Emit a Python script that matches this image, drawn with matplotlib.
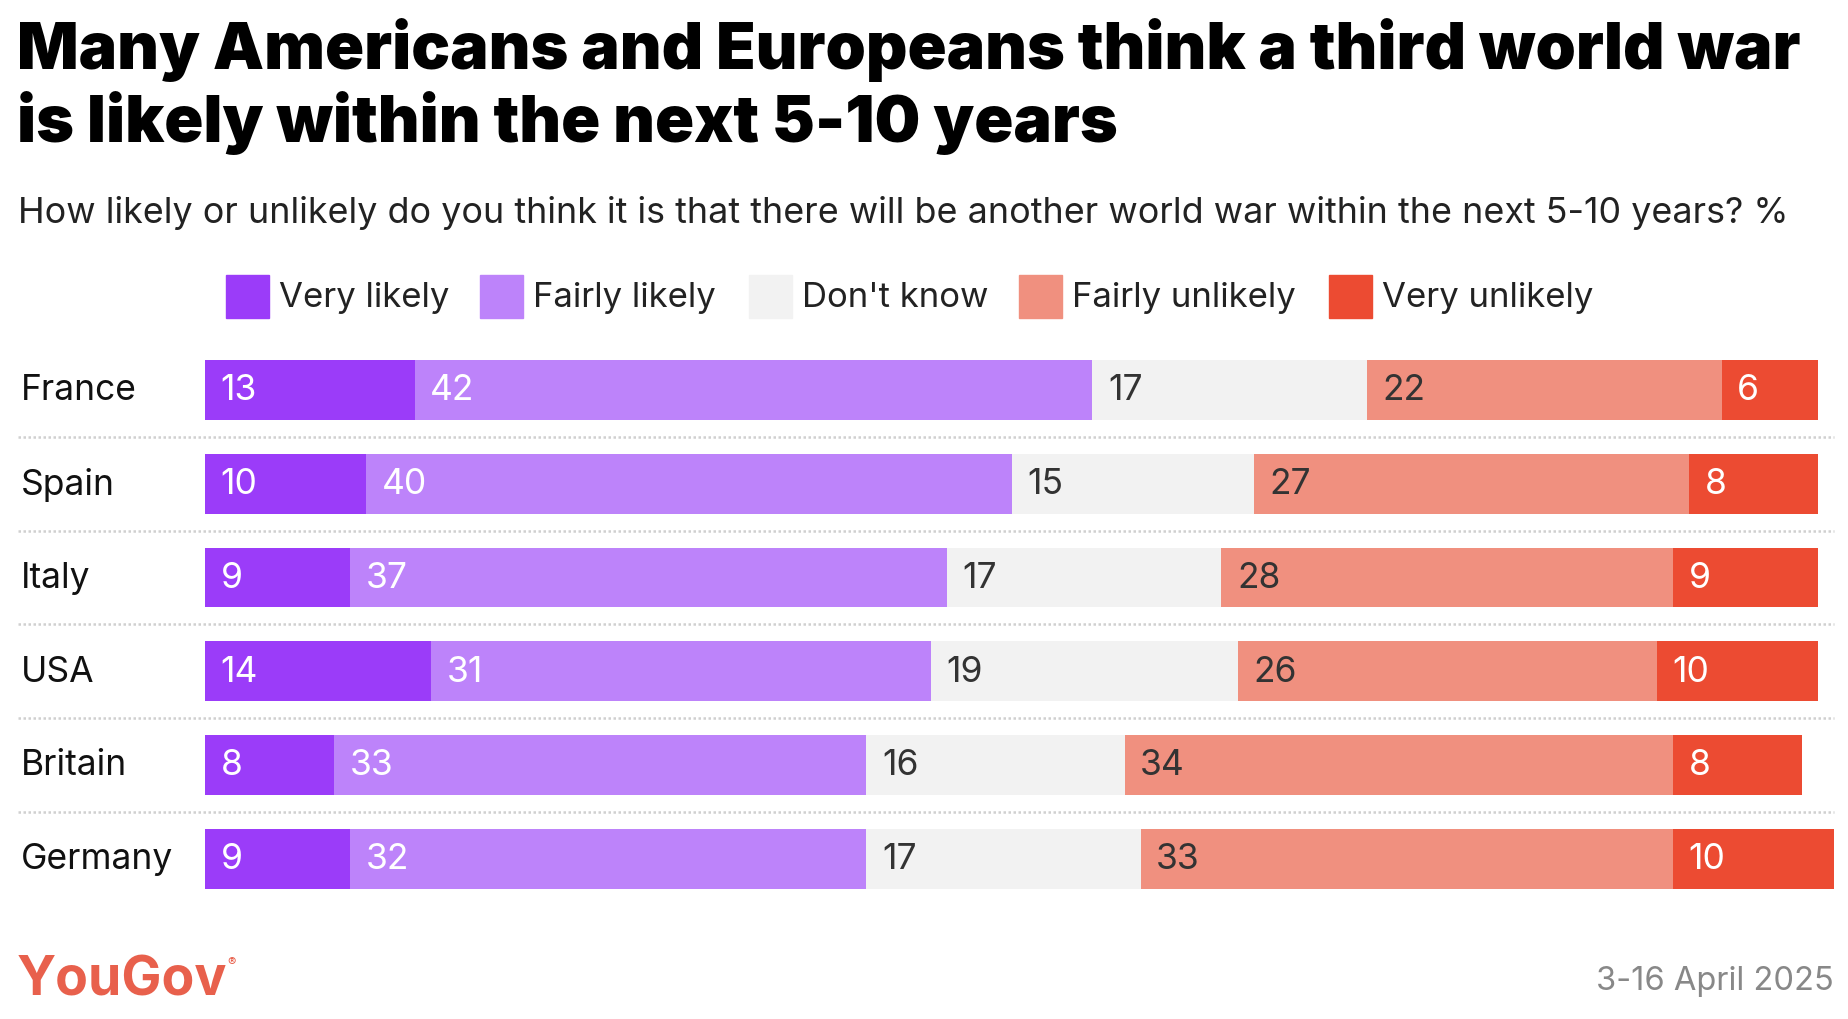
import matplotlib
matplotlib.use("Agg")
import matplotlib.pyplot as plt
import numpy as np

countries = ["France", "Spain", "Italy", "USA", "Britain", "Germany"]
categories = ["Very likely", "Fairly likely", "Don't know", "Fairly unlikely", "Very unlikely"]
very_likely = [13, 10, 9, 14, 8, 9]
fairly_likely = [42, 40, 37, 31, 33, 32]
dont_know = [17, 15, 17, 19, 16, 17]
fairly_unlikely = [22, 27, 28, 26, 34, 33]
very_unlikely = [6, 8, 9, 10, 8, 10]
series = [very_likely, fairly_likely, dont_know, fairly_unlikely, very_unlikely]
colors = ["#9B3CF9", "#BD83FA", "#F2F2F2", "#F0907F", "#EC4B32"]
text_colors = ["white", "white", "#333333", "#333333", "white"]

title_lines = ["Many Americans and Europeans think a third world war",
               "is likely within the next 5-10 years"]
subtitle = "How likely or unlikely do you think it is that there will be another world war within the next 5-10 years? %"
date_text = "3-16 April 2025"

plt.rcParams['font.family'] = ['Inter', 'DejaVu Sans']

W, H = 1848, 1020
fig = plt.figure(figsize=(W / 100, H / 100), dpi=100)

def fx(x):
    return x / W

def fy(y):
    return 1 - y / H

# Title and subtitle
for line, base in zip(title_lines, [69, 142]):
    fig.text(fx(17), fy(base), line, fontsize=46.4, fontweight=900, color="black",
             ha="left", va="baseline")
fig.text(fx(18), fy(223), subtitle, fontsize=25.8, color="#222222", ha="left", va="baseline")

# Legend
sq_x = [226, 480, 749, 1019, 1329]
for i, cat in enumerate(categories):
    fig.patches.append(plt.Rectangle((fx(sq_x[i]), fy(319)), 43 / W, 43 / H,
                                     transform=fig.transFigure, color=colors[i]))
    fig.text(fx(sq_x[i] + 53), fy(298), cat, fontsize=25, color="#222222",
             ha="left", va="center")

# Bars axes
left_px, right_px = 18, 1834
top_px, bot_px = 344.1, 906.6
ax = fig.add_axes([fx(left_px), fy(bot_px), (right_px - left_px) / W, (bot_px - top_px) / H])
upp = 100 / (1818.3 - 205)
xmin = -(205 - left_px) * upp
xmax = 100 + (right_px - 1818.3) * upp
ax.set_xlim(xmin, xmax)
ax.set_ylim(len(countries) - 0.5, -0.5)
ax.axis("off")

y = np.arange(len(countries))
left = np.zeros(len(countries))
for k, vals in enumerate(series):
    vals = np.array(vals, dtype=float)
    ax.barh(y, vals, left=left, height=0.636, color=colors[k], clip_on=False)
    for i, v in enumerate(vals):
        ax.text(left[i] + 15.5 * upp, y[i], f"{int(v)}", color=text_colors[k],
                fontsize=25.5, va="center", ha="left")
    left += vals

for i, c in enumerate(countries):
    ax.text(xmin + 3 * upp, y[i], c, fontsize=25.5, color="#111111", va="center", ha="left")

for i in range(len(countries) - 1):
    ax.plot([xmin, xmax], [i + 0.5, i + 0.5], color="#D0D0D0", lw=1.8,
            linestyle=(0, (1, 1)), clip_on=False)

# Footer
fig.text(fx(17), fy(996), "YouGov", fontsize=38.5, fontweight="bold", color="#E8604C",
         ha="left", va="baseline")
fig.text(fx(227), fy(966), "®", fontsize=9, color="#E8604C", ha="left", va="baseline")
fig.text(fx(1834), fy(990), date_text, fontsize=23.5, color="#888888", ha="right", va="baseline")

fig.savefig("out.png", dpi=100, facecolor="white")
